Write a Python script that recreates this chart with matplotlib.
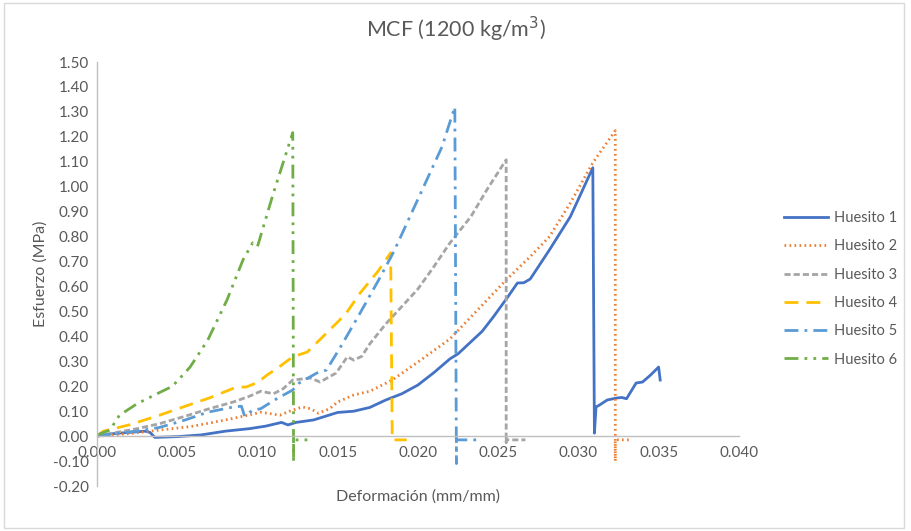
import matplotlib
matplotlib.use('Agg')
import matplotlib.pyplot as plt
from matplotlib.patches import Rectangle
import numpy as np

plt.rcParams['font.family'] = ['Lato', 'DejaVu Sans']

# Huesito 1
x1 = [0, 0.0010, 0.0020, 0.0030, 0.0033, 0.0036, 0.0050, 0.0065, 0.0080, 0.0095, 0.0105,
      0.0115, 0.0119, 0.0124, 0.0135, 0.0150, 0.0160, 0.0170, 0.0180, 0.0190, 0.0200,
      0.0210, 0.0220, 0.0225, 0.0230, 0.0240, 0.0247, 0.0256, 0.0262, 0.0266, 0.0270,
      0.0282, 0.0295, 0.0309, 0.0310, 0.0311, 0.0313, 0.0318, 0.0324, 0.0327, 0.0330,
      0.0336, 0.0340, 0.0345, 0.0350, 0.0351]
y1 = [0, 0.010, 0.015, 0.020, 0.015, -0.005, -0.002, 0.005, 0.020, 0.030, 0.040,
      0.055, 0.045, 0.055, 0.065, 0.095, 0.100, 0.115, 0.145, 0.170, 0.205,
      0.255, 0.310, 0.330, 0.360, 0.420, 0.478, 0.558, 0.614, 0.615, 0.630,
      0.747, 0.880, 1.076, 0.012, 0.117, 0.124, 0.145, 0.153, 0.155, 0.150,
      0.213, 0.217, 0.245, 0.277, 0.225]

# Huesito 2
x2 = [0, 0.0020, 0.0040, 0.0060, 0.0080, 0.0095, 0.0102, 0.0108, 0.0114, 0.0120, 0.0128,
      0.0133, 0.0138, 0.0145, 0.0150, 0.0160, 0.0170, 0.0184, 0.0200, 0.0220, 0.0240,
      0.0255, 0.0270, 0.0282, 0.0295, 0.0309, 0.0323, 0.0323, 0.0323, 0.0333]
y2 = [0, 0.010, 0.025, 0.040, 0.065, 0.085, 0.096, 0.090, 0.084, 0.100, 0.117,
      0.110, 0.092, 0.110, 0.137, 0.165, 0.180, 0.225, 0.297, 0.390, 0.525,
      0.626, 0.720, 0.800, 0.935, 1.096, 1.225, -0.100, -0.015, -0.015]

# Huesito 3
x3 = [0, 0.0008, 0.0025, 0.0039, 0.0055, 0.0070, 0.0085, 0.0095, 0.0102, 0.0110, 0.0116,
      0.0122, 0.0133, 0.0139, 0.0149, 0.0156, 0.0160, 0.0165, 0.0170, 0.0180, 0.0190,
      0.0200, 0.0210, 0.0220, 0.0233, 0.0243, 0.0255, 0.0255, 0.0255, 0.0267]
y3 = [0, 0.010, 0.030, 0.050, 0.080, 0.110, 0.137, 0.160, 0.180, 0.170, 0.190,
      0.225, 0.233, 0.217, 0.253, 0.318, 0.305, 0.320, 0.370, 0.450, 0.520,
      0.590, 0.680, 0.775, 0.880, 0.988, 1.108, -0.025, -0.015, -0.015]

# Huesito 4
x4 = [0, 0.0004, 0.0020, 0.0039, 0.0055, 0.0070, 0.0087, 0.0093, 0.0100, 0.0106, 0.0114,
      0.0122, 0.0131, 0.0143, 0.0155, 0.0164, 0.0175, 0.0183, 0.0184, 0.0193]
y4 = [0, 0.020, 0.045, 0.084, 0.120, 0.153, 0.197, 0.197, 0.215, 0.245, 0.280,
      0.318, 0.337, 0.413, 0.490, 0.574, 0.660, 0.735, -0.015, -0.015]

# Huesito 5
x5 = [0, 0.0010, 0.0025, 0.0039, 0.0055, 0.0069, 0.0085, 0.0090, 0.0092, 0.0097, 0.0102,
      0.0112, 0.0122, 0.0126, 0.0137, 0.0143, 0.0152, 0.0164, 0.0175, 0.0185, 0.0195,
      0.0205, 0.0215, 0.0223, 0.0224, 0.0224, 0.0240]
y5 = [0, 0.010, 0.020, 0.035, 0.065, 0.096, 0.117, 0.120, 0.080, 0.104, 0.110,
      0.150, 0.185, 0.213, 0.253, 0.265, 0.360, 0.494, 0.620, 0.740, 0.880,
      1.020, 1.160, 1.320, -0.110, -0.015, -0.015]

# Huesito 6
x6 = [0, 0.0002, 0.0008, 0.0014, 0.0025, 0.0039, 0.0047, 0.0058, 0.0069, 0.0081, 0.0091,
      0.0097, 0.0100, 0.0110, 0.0122, 0.01225, 0.01225, 0.0133]
y6 = [0, 0.010, 0.024, 0.084, 0.130, 0.175, 0.200, 0.277, 0.385, 0.546, 0.707,
      0.775, 0.760, 0.976, 1.217, -0.105, -0.015, -0.015]

labels = ['Huesito 1', 'Huesito 2', 'Huesito 3', 'Huesito 4', 'Huesito 5', 'Huesito 6']
colors = ['#4472C4', '#ED7D31', '#A5A5A5', '#FFC000', '#5B9BD5', '#70AD47']
styles = ['-', (0, (0.6, 1.2)), (0, (2.2, 1.1)), (0, (5, 2.9)),
          (0, (5, 2.2, 1, 2.2)), (0, (5, 2.2, 1, 2.2, 1, 2.2))]

fig = plt.figure(figsize=(9.11, 5.31), dpi=100)
ax = fig.add_axes([0.1065, 0.0847, 0.7045, 0.7985])

for xs, ys, lab, c, ls in zip([x1, x2, x3, x4, x5, x6], [y1, y2, y3, y4, y5, y6],
                              labels, colors, styles):
    ax.plot(xs, ys, color=c, linestyle=ls, lw=2, label=lab)

ax.set_xlim(0, 0.04)
ax.set_ylim(-0.2, 1.5)
ax.set_xticks(np.arange(0, 0.0401, 0.005))
ax.set_yticks(np.arange(-0.2, 1.501, 0.1))
ax.xaxis.set_major_formatter(matplotlib.ticker.FormatStrFormatter('%.3f'))
ax.yaxis.set_major_formatter(matplotlib.ticker.FormatStrFormatter('%.2f'))
ax.tick_params(length=0, labelsize=11, labelcolor='#595959')
ax.tick_params(axis='x', pad=7)
ax.tick_params(axis='y', pad=6)

for s in ['top', 'right']:
    ax.spines[s].set_visible(False)
ax.spines['bottom'].set_position(('data', 0))
ax.spines['bottom'].set_color('#BFBFBF')
ax.spines['left'].set_color('#BFBFBF')
ax.spines['bottom'].set_linewidth(1)
ax.spines['left'].set_linewidth(1)

fig.text(0.5, 0.944, 'MCF (1200 kg/m$^{3}$)', ha='center', va='center',
         fontsize=15.5, color='#595959')
fig.text(0.459, 0.064, 'Deformación (mm/mm)', ha='center', va='center',
         fontsize=11.5, color='#595959')
fig.text(0.044, 0.484, 'Esfuerzo (MPa)', ha='center', va='center', rotation=90,
         fontsize=11.5, color='#595959')

leg = ax.legend(loc='center left', bbox_to_anchor=(1.05, 0.465), frameon=False,
                fontsize=10.5, handlelength=3.0, labelspacing=0.98, handletextpad=0.4)
for t in leg.get_texts():
    t.set_color('#595959')

fig.patches.append(Rectangle((0.004, 0.006), 0.988, 0.988, transform=fig.transFigure,
                             fill=False, edgecolor='#D9D9D9', lw=1))

plt.savefig('out.png', dpi=100)
